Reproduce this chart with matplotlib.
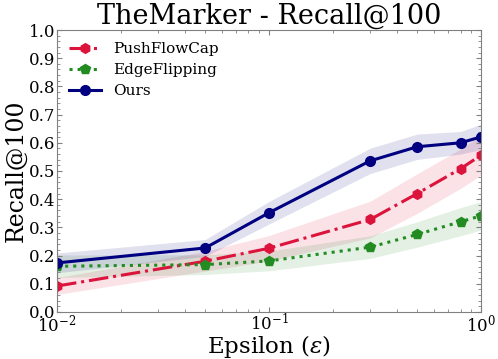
import matplotlib.pyplot as plt
from matplotlib.ticker import AutoMinorLocator

eps = [0.01, 0.05, 0.1, 0.3, 0.5, 0.8, 1.0]

push_mean = [0.092, 0.180, 0.226, 0.328, 0.420, 0.508, 0.556]
push_std = [0.030, 0.035, 0.045, 0.065, 0.070, 0.070, 0.070]

edge_mean = [0.162, 0.168, 0.181, 0.230, 0.275, 0.320, 0.341]
edge_std = [0.040, 0.035, 0.035, 0.040, 0.045, 0.050, 0.050]

ours_mean = [0.174, 0.227, 0.352, 0.536, 0.586, 0.600, 0.621]
ours_std = [0.035, 0.030, 0.040, 0.045, 0.045, 0.040, 0.045]

plt.rcParams['font.family'] = 'DejaVu Serif'
plt.rcParams['mathtext.fontset'] = 'dejavuserif'

fig = plt.figure(figsize=(4.98, 3.59), dpi=100)
ax = fig.add_axes([0.1145, 0.131, 0.8515, 0.7854])

series = [
    ("PushFlowCap", push_mean, push_std, "crimson", "-.", "h"),
    ("EdgeFlipping", edge_mean, edge_std, "forestgreen", ":", "p"),
    ("Ours", ours_mean, ours_std, "navy", "-", "o"),
]

for name, m, s, c, ls, mk in series:
    lo = [a - b for a, b in zip(m, s)]
    hi = [a + b for a, b in zip(m, s)]
    ax.fill_between(eps, lo, hi, color=c, alpha=0.12, linewidth=0)
    ax.plot(eps, m, color=c, linestyle=ls, marker=mk, markersize=7,
            linewidth=2.2, label=name)

ax.set_xscale("log")
ax.set_xlim(0.01, 1.0)
ax.set_ylim(0, 1.0)
ax.set_yticks([i / 10 for i in range(11)])
ax.yaxis.set_minor_locator(AutoMinorLocator(5))

ax.tick_params(which="both", direction="in", top=True, right=True,
               color="gray", labelsize=12, pad=1)
ax.tick_params(which="major", length=3.5, width=0.8)
ax.tick_params(which="minor", length=2, width=0.6)
for sp in ax.spines.values():
    sp.set_color("gray")

ax.set_title("TheMarker - Recall@100", fontsize=19.5, pad=4)
ax.set_xlabel(r"Epsilon ($\varepsilon$)", fontsize=16.5, labelpad=-1.5)
ax.set_ylabel("Recall@100", fontsize=17, labelpad=1)

ax.legend(loc="upper left", frameon=False, fontsize=11, handlelength=2.1,
          borderaxespad=0.4, labelspacing=0.45)

fig.savefig("out.png", dpi=100)
